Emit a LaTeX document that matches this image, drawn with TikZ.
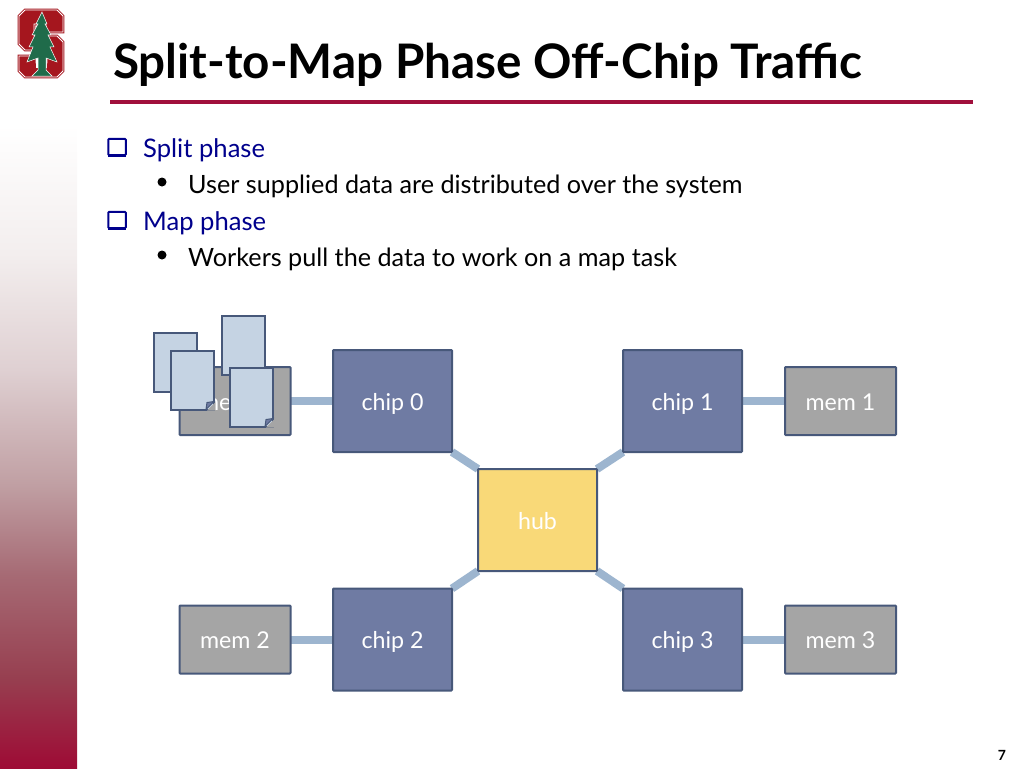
\documentclass[tikz,border=0pt]{standalone}
\usepackage{fontspec}
\setmainfont{Lato}
\usetikzlibrary{backgrounds}
\definecolor{cardinal}{HTML}{A00F3C}
\definecolor{navytext}{HTML}{00008C}
\definecolor{chipfill}{HTML}{6F7BA3}
\definecolor{memfill}{HTML}{A5A5A5}
\definecolor{hubfill}{HTML}{F9D978}
\definecolor{edgeblue}{HTML}{47587A}
\definecolor{linkblue}{HTML}{9DB5CF}
\definecolor{sheetfill}{HTML}{C5D3E3}
\definecolor{logored}{HTML}{A5161E}
\definecolor{logogreen}{HTML}{1F6B4A}
\definecolor{barA}{HTML}{9E0B35}
\definecolor{barB}{HTML}{973F50}
\definecolor{barC}{HTML}{A66A74}
\definecolor{barD}{HTML}{C09FA3}
\definecolor{barE}{HTML}{DFD0D2}
\definecolor{barF}{HTML}{F3EEEE}
\pgfdeclareverticalshading{sidebar}{100bp}{
    color(0bp)=(barA);
    color(25bp)=(barA);
    color(32bp)=(barB);
    color(40bp)=(barC);
    color(47bp)=(barD);
    color(56bp)=(barE);
    color(65bp)=(barF);
    color(75bp)=(white);
    color(100bp)=(white)}
\begin{document}
\begin{tikzpicture}[
    x=1pt, y=-1pt,
    box/.style={draw=edgeblue, line width=2pt, rounded corners=0.8pt, outer sep=0pt, inner sep=0pt, text=white, text height=21pt, text depth=3pt, font=\fontsize{23.2}{28}\selectfont},
    chip/.style={box, fill=chipfill, minimum width=119pt, minimum height=102pt},
    mem/.style={box, fill=memfill, minimum width=111pt, minimum height=68pt},
    hub/.style={box, fill=hubfill, minimum width=119pt, minimum height=102pt},
    link/.style={draw=linkblue, line width=8pt},
    sheet/.style={draw=edgeblue, line width=2pt, fill=sheetfill, outer sep=0pt, inner sep=0pt, minimum width=43pt, minimum height=59pt},
    fold/.style={fill=chipfill, draw=edgeblue, line width=1pt},
    head/.style={anchor=base west, inner sep=0pt, text=navytext, font=\fontsize{25.6}{32}\selectfont},
    sub/.style={anchor=base west, inner sep=0pt, text=black, font=\fontsize{25.2}{32}\selectfont},
    check/.style={draw=navytext, line width=2pt, rounded corners=1pt, inner sep=0pt, outer sep=0pt, minimum width=17.5pt, minimum height=16.5pt},
    dot/.style={circle, fill=black, inner sep=0pt, minimum size=9pt}
]
    \useasboundingbox (0,0) rectangle (1024,768);
    \shade[shading=sidebar] (0,125) rectangle (77,768);

    % logo
    \draw[fill=logored, draw=white, line width=0.9pt, preaction={draw=logored, line width=2.6pt}] (25,10) -- (57,10) -- (63,16) -- (63,32) -- (46,32) -- (46,24) -- (34,24) -- (34,36) -- (57,36) -- (63,42) -- (63,71) -- (57,77) -- (25,77) -- (19,71) -- (19,56) -- (36,56) -- (36,63) -- (47,63) -- (47,50) -- (25,50) -- (19,44) -- (19,16) -- cycle;
    \fill[white] (36,55) rectangle (47,68);
    \draw[fill=logogreen, draw=white, line width=0.5pt] (42,12) -- (47,24) -- (45,24) -- (51,35) -- (48,35) -- (54,47) -- (50,47) -- (57,62) -- (46,58) -- (46,70) -- (52,76) -- (32,76) -- (38,70) -- (38,58) -- (27,62) -- (33,47) -- (29,47) -- (35,35) -- (32,35) -- (38,24) -- (36,24) -- cycle;

    % title
    \node[anchor=base west, inner sep=0pt, font=\fontsize{47.6}{54}\selectfont\bfseries] (title) at (113,78) {Split-to-Map Phase Off-Chip Traffic};
    \coordinate (ruleL) at (110,102);
    \coordinate (ruleR) at (973,102);
    \draw[cardinal, line width=4pt] (ruleL) -- (ruleR);

    % bullets
    \node[check] (box1) at (117,147) {};
    \draw[navytext, line width=3.5pt] (box1.south west) -- (box1.south east);
    \node[head] (split) at (143,157) {Split phase};
    \node[dot] (dot1) at (162,182) {};
    \node[sub] (splittxt) at (188,193) {User supplied data are distributed over the system};
    \node[check] (box2) at (117,220) {};
    \draw[navytext, line width=3.5pt] (box2.south west) -- (box2.south east);
    \node[head] (map) at (143,230) {Map phase};
    \node[dot] (dot2) at (162,255) {};
    \node[sub] (maptxt) at (188,266) {Workers pull the data to work on a map task};

    % system
    \node[chip] (chip0) at (392.5,401) {chip 0};
    \node[chip] (chip1) at (682.5,401) {chip 1};
    \node[chip] (chip2) at (392.5,639.5) {chip 2};
    \node[chip] (chip3) at (682.5,639.5) {chip 3};
    \node[hub] (hub0) at (537.5,520) {hub};
    \node[mem] (mem0) at (235,401) {mem 0};
    \node[mem] (mem1) at (840.5,401) {mem 1};
    \node[mem] (mem2) at (235,639.5) {mem 2};
    \node[mem] (mem3) at (840.5,639.5) {mem 3};

    \begin{scope}[on background layer]
        \draw[link] (mem0) -- (chip0);
        \draw[link] (chip1) -- (mem1);
        \draw[link] (mem2) -- (chip2);
        \draw[link] (chip3) -- (mem3);
        \draw[link] (chip0.south east) -- (hub0.north west);
        \draw[link] (chip1.south west) -- (hub0.north east);
        \draw[link] (chip2.north east) -- (hub0.south west);
        \draw[link] (chip3.north west) -- (hub0.south east);
    \end{scope}

    % input data
    \node[sheet] (sheet0) at (175,362.5) {};
    \node[sheet] (sheet1) at (192.5,380) {};
    \fill[memfill] (sheet1.south east) ++(-7,1) -- ++(8,0) -- ++(0,-8) -- cycle;
    \draw[fold] (sheet1.south east) ++(-8,0) -- ++(8,-8) -- ++(-7,1) -- cycle;
    \node[sheet] (sheet2) at (243,345.5) {};
    \node[sheet] (sheet3) at (251.5,397) {};
    \fill[memfill] (sheet3.south east) ++(-7,1) -- ++(8,0) -- ++(0,-8) -- cycle;
    \draw[fold] (sheet3.south east) ++(-8,0) -- ++(8,-8) -- ++(-7,1) -- cycle;

    \node[inner sep=0pt, font=\fontsize{14}{16}\selectfont\bfseries] (pagenum) at (1002,755) {7};
\end{tikzpicture}
\end{document}
